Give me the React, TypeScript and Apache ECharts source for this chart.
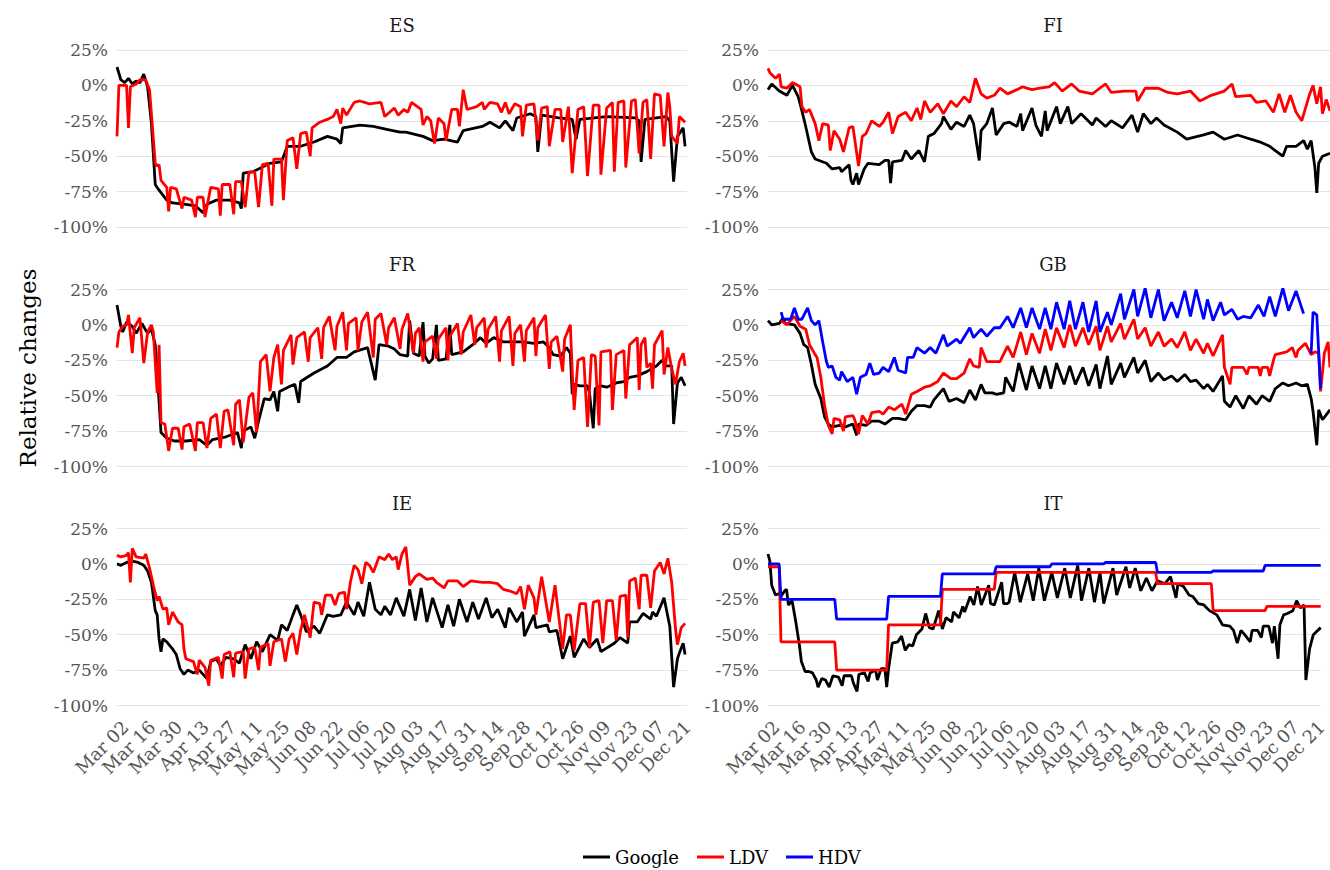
import React, { useEffect, useRef } from "react";
import * as echarts from "echarts";

// Day index: 0 = Mon 2 Mar 2020
const panelNames = ["ES", "FI", "FR", "GB", "IE", "IT"];
const tickDays = [0, 14, 28, 42, 56, 70, 84, 98, 112, 126, 140, 154, 168, 182, 196, 210, 224, 238, 252, 266, 280, 294];
const dayMin = -1;
const dayMax = 297;
const yMin = -100;
const yMax = 25;

const esGoogle = [[-1,13],[1,4],[3,2],[5,5],[7,1],[9,3],[11,2],[13,8],[15,-1],[17,-27],[19,-70],[21,-74],[25,-81],[28,-83],[35,-84],[40,-85],[44,-90],[46,-84],[51,-81],[58,-81],[63,-83],[64,-87],[65,-62],[70,-61],[79,-55],[85,-54],[88,-43],[95,-43],[102,-40],[109,-36],[114,-38],[116,-41],[117,-30],[126,-28],[133,-29],[140,-31],[147,-33],[150,-33],[159,-36],[164,-39],[170,-38],[177,-40],[180,-32],[190,-29],[194,-26],[199,-30],[202,-25],[206,-32],[208,-23],[215,-20],[218,-22],[219,-47],[221,-21],[230,-23],[237,-24],[239,-38],[241,-24],[255,-22],[270,-23],[272,-25],[273,-54],[275,-24],[286,-22],[288,-25],[290,-68],[292,-36],[295,-30],[296,-43]];
const esLdv = [[-1,-36],[0,0],[4,0],[5,-30],[6,-1],[9,1],[11,4],[14,4],[16,-3],[19,-55],[20,-57],[21,-56],[22,-67],[25,-72],[26,-89],[27,-72],[30,-73],[33,-87],[34,-79],[38,-81],[40,-93],[41,-79],[44,-79],[45,-93],[48,-72],[52,-73],[53,-92],[54,-70],[58,-70],[60,-91],[61,-68],[64,-68],[66,-86],[68,-61],[71,-61],[73,-86],[75,-56],[78,-55],[80,-85],[81,-52],[85,-52],[86,-81],[88,-39],[91,-37],[93,-59],[95,-34],[98,-33],[100,-50],[101,-30],[105,-26],[109,-24],[112,-22],[114,-17],[116,-27],[117,-16],[119,-21],[123,-12],[126,-11],[131,-13],[137,-12],[139,-22],[144,-16],[146,-21],[149,-17],[151,-19],[153,-12],[156,-15],[158,-17],[159,-28],[161,-22],[163,-25],[165,-41],[167,-23],[170,-27],[171,-39],[174,-17],[177,-17],[178,-29],[180,-3],[182,-17],[187,-15],[190,-12],[191,-17],[194,-12],[198,-13],[200,-19],[202,-12],[204,-20],[207,-13],[210,-15],[211,-36],[213,-14],[217,-13],[219,-39],[221,-16],[224,-15],[225,-43],[228,-17],[231,-17],[232,-40],[235,-15],[237,-62],[240,-17],[243,-15],[245,-64],[248,-14],[251,-14],[252,-63],[255,-16],[258,-12],[259,-61],[261,-12],[264,-11],[265,-58],[268,-11],[270,-10],[272,-48],[274,-12],[276,-10],[278,-52],[280,-6],[283,-7],[285,-43],[287,-5],[288,-15],[289,-36],[292,-41],[293,-22],[296,-26]];

const fiGoogle = [[-1,-3],[1,1],[5,-4],[9,-7],[12,0],[15,-8],[17,-18],[19,-29],[22,-47],[24,-52],[30,-55],[33,-59],[37,-58],[38,-61],[42,-56],[43,-67],[44,-70],[46,-62],[47,-70],[50,-59],[52,-55],[58,-56],[61,-53],[63,-53],[64,-69],[65,-54],[70,-53],[72,-46],[75,-52],[79,-46],[82,-54],[84,-36],[87,-34],[91,-27],[92,-22],[96,-31],[99,-26],[103,-29],[106,-21],[108,-27],[111,-53],[112,-32],[115,-27],[118,-16],[120,-35],[124,-27],[127,-26],[131,-29],[133,-20],[134,-32],[139,-16],[141,-28],[144,-36],[146,-18],[147,-32],[152,-15],[154,-27],[158,-15],[160,-27],[165,-20],[171,-28],[173,-23],[178,-29],[181,-25],[187,-30],[192,-21],[195,-33],[198,-20],[202,-27],[205,-23],[209,-28],[216,-33],[221,-38],[230,-35],[235,-33],[241,-38],[248,-35],[255,-38],[260,-40],[265,-43],[268,-46],[272,-50],[274,-43],[279,-43],[283,-39],[285,-45],[287,-39],[289,-58],[290,-76],[291,-55],[293,-50],[297,-48]];
const fiLdv = [[-1,12],[0,9],[3,5],[5,8],[6,-1],[9,-2],[12,2],[16,-1],[17,-15],[19,-19],[21,-17],[24,-27],[26,-39],[28,-27],[31,-28],[32,-46],[34,-32],[37,-38],[39,-47],[42,-30],[44,-29],[45,-38],[47,-57],[49,-36],[51,-34],[54,-25],[58,-29],[60,-26],[63,-19],[65,-34],[68,-22],[72,-19],[75,-25],[78,-16],[80,-24],[82,-11],[85,-19],[89,-13],[92,-20],[96,-11],[99,-15],[103,-8],[106,-12],[109,5],[112,-6],[115,-9],[119,-7],[122,-2],[126,-6],[131,-3],[134,-1],[139,-3],[143,-2],[148,-1],[151,2],[155,-4],[160,1],[164,-4],[171,-6],[178,1],[181,-5],[188,-4],[194,-4],[195,-11],[199,-2],[206,-2],[211,-5],[216,-6],[223,-4],[228,-11],[234,-7],[241,-4],[245,1],[247,-8],[255,-7],[258,-12],[263,-11],[267,-19],[270,-6],[273,-19],[276,-7],[279,-19],[282,-25],[286,-7],[288,0],[290,-13],[292,-1],[293,-20],[295,-10],[297,-18]];

const frGoogle = [[-1,14],[1,-1],[2,-5],[4,2],[7,-1],[9,-6],[12,1],[15,-6],[17,-3],[19,-14],[21,-54],[22,-76],[25,-80],[29,-82],[35,-82],[42,-81],[46,-85],[49,-81],[56,-79],[62,-76],[64,-87],[65,-75],[69,-72],[71,-80],[73,-68],[76,-52],[79,-53],[81,-47],[83,-61],[84,-47],[90,-43],[92,-42],[94,-55],[95,-40],[102,-34],[109,-29],[114,-23],[119,-23],[123,-19],[130,-16],[134,-39],[136,-14],[141,-15],[144,-17],[147,-21],[151,-22],[152,3],[154,-20],[157,-22],[159,2],[160,-22],[162,-27],[164,-24],[166,0],[167,-25],[171,-24],[173,0],[174,-21],[180,-19],[185,-14],[189,-9],[192,-13],[196,-9],[201,-12],[206,-12],[211,-12],[217,-13],[222,-12],[225,-16],[227,-21],[231,-22],[234,-16],[236,-20],[237,-49],[238,-42],[241,-43],[245,-43],[246,-48],[248,-73],[249,-45],[252,-43],[255,-44],[260,-41],[264,-40],[267,-37],[271,-36],[276,-33],[281,-29],[284,-25],[286,-29],[289,-29],[290,-70],[292,-41],[294,-37],[296,-43]];
const frLdv = [[-1,-16],[0,-5],[2,-1],[4,0],[5,7],[7,-20],[8,-2],[11,5],[13,-27],[15,-5],[17,0],[18,-5],[20,-48],[21,-14],[22,-69],[24,-70],[26,-89],[28,-73],[31,-73],[33,-88],[34,-72],[37,-70],[40,-89],[41,-69],[44,-69],[46,-87],[48,-66],[51,-63],[53,-87],[55,-61],[57,-60],[60,-85],[61,-56],[63,-53],[65,-83],[68,-51],[70,-48],[72,-76],[74,-26],[77,-21],[79,-47],[81,-23],[83,-14],[85,-42],[86,-18],[90,-7],[91,-28],[93,-9],[97,-5],[99,-26],[100,-9],[104,-2],[106,-24],[107,-2],[110,6],[113,-18],[114,-1],[117,9],[119,-18],[120,1],[124,5],[125,-18],[127,2],[130,9],[133,-23],[134,4],[137,8],[140,-14],[141,-2],[144,5],[147,-17],[148,-3],[151,8],[154,-20],[155,-6],[157,-2],[159,-26],[160,-12],[164,-8],[166,-24],[167,-10],[171,-2],[172,-25],[173,-8],[177,1],[179,-21],[180,-5],[184,7],[186,-14],[187,-2],[191,5],[192,-16],[193,-3],[197,6],[199,-26],[200,-4],[204,6],[206,-29],[207,-6],[210,0],[212,-26],[213,-4],[217,5],[218,-22],[219,-2],[223,7],[225,-31],[226,-12],[229,-8],[232,-33],[233,-10],[236,0],[237,-33],[238,-60],[240,-25],[243,-23],[245,-72],[247,-21],[249,-22],[251,-71],[252,-19],[257,-18],[258,-60],[260,-21],[264,-18],[265,-52],[267,-14],[271,-9],[272,-46],[273,-14],[275,-9],[276,-30],[278,-27],[279,-45],[280,-14],[284,-4],[285,-35],[287,-16],[289,-31],[291,-42],[293,-26],[295,-20],[296,-29]];

const gbGoogle = [[-1,3],[1,0],[5,1],[7,5],[8,1],[13,0],[16,-6],[18,-14],[20,-16],[22,-28],[24,-42],[27,-52],[29,-65],[31,-70],[33,-72],[37,-71],[40,-72],[44,-70],[46,-78],[47,-70],[51,-71],[54,-68],[58,-68],[61,-70],[65,-66],[68,-66],[72,-67],[75,-61],[78,-57],[82,-57],[85,-58],[87,-53],[92,-45],[95,-54],[99,-52],[103,-55],[106,-46],[109,-53],[112,-42],[114,-48],[118,-48],[120,-49],[124,-48],[125,-37],[129,-47],[132,-27],[136,-46],[139,-29],[143,-45],[146,-29],[149,-45],[152,-27],[156,-42],[159,-29],[162,-42],[166,-30],[169,-43],[173,-28],[175,-45],[179,-22],[181,-42],[186,-27],[188,-37],[193,-23],[195,-34],[199,-25],[202,-40],[206,-34],[209,-39],[213,-36],[216,-40],[220,-35],[223,-40],[226,-39],[230,-45],[232,-42],[235,-47],[240,-36],[241,-54],[244,-58],[247,-50],[251,-59],[254,-50],[258,-56],[261,-50],[265,-54],[268,-45],[272,-41],[275,-43],[279,-41],[282,-43],[285,-42],[287,-52],[288,-61],[290,-85],[291,-60],[293,-67],[297,-60]];
const gbLdv = [[6,3],[9,0],[13,6],[16,-1],[19,-3],[21,-14],[24,-21],[25,-23],[27,-37],[29,-57],[31,-71],[33,-77],[34,-66],[37,-67],[39,-75],[40,-65],[44,-64],[45,-67],[47,-77],[49,-64],[52,-70],[54,-62],[58,-61],[60,-63],[63,-58],[66,-60],[70,-56],[72,-63],[75,-49],[78,-47],[82,-44],[85,-43],[89,-40],[92,-34],[96,-38],[99,-38],[103,-34],[106,-24],[108,-29],[111,-30],[112,-16],[115,-26],[119,-26],[122,-26],[126,-15],[129,-23],[133,-5],[136,-21],[139,-6],[143,-20],[146,-3],[149,-18],[152,-2],[156,-16],[159,0],[162,-15],[166,-2],[169,-14],[173,-1],[175,-18],[179,-1],[181,-12],[186,1],[188,-10],[193,4],[195,-10],[199,-2],[202,-15],[206,-5],[209,-15],[213,-10],[216,-16],[220,-5],[223,-18],[226,-10],[230,-20],[232,-13],[235,-22],[240,-7],[241,-30],[244,-42],[245,-30],[251,-30],[253,-35],[254,-30],[259,-30],[260,-36],[261,-30],[264,-30],[265,-36],[267,-25],[268,-21],[274,-19],[277,-16],[279,-23],[280,-18],[284,-13],[287,-21],[289,-19],[291,-20],[292,-47],[294,-20],[296,-12],[297,-30]];
const gbHdv = [[6,9],[7,4],[11,4],[13,12],[15,4],[17,4],[20,12],[22,3],[24,0],[26,3],[28,-12],[30,-26],[31,-30],[33,-29],[35,-37],[37,-39],[38,-33],[41,-40],[44,-37],[46,-49],[48,-37],[51,-35],[53,-27],[55,-35],[58,-34],[60,-30],[63,-33],[66,-23],[68,-32],[72,-34],[73,-23],[76,-23],[78,-16],[82,-20],[85,-16],[88,-20],[92,-7],[94,-15],[99,-10],[101,-13],[106,-2],[108,-9],[112,-3],[115,-8],[119,-2],[122,-2],[126,6],[129,-2],[133,12],[136,-2],[139,12],[143,-3],[146,12],[149,-3],[152,16],[156,-3],[159,17],[162,-3],[166,16],[169,-5],[173,17],[175,-5],[179,9],[181,0],[186,22],[188,4],[193,25],[195,6],[199,26],[202,5],[206,25],[209,3],[213,16],[216,5],[220,24],[223,6],[226,25],[230,4],[232,18],[235,3],[239,16],[241,7],[245,11],[248,4],[251,6],[255,5],[259,14],[262,6],[265,20],[268,6],[272,26],[275,10],[279,24],[283,8]];
const gbHdvLate = [[287,-20],[288,9],[290,7],[292,-45]];

const ieGoogle = [[-1,0],[1,-1],[4,1],[7,2],[10,1],[13,-1],[15,-5],[17,-13],[19,-33],[20,-36],[21,-53],[22,-62],[23,-53],[25,-55],[28,-60],[30,-64],[32,-74],[34,-78],[36,-75],[39,-77],[42,-75],[46,-81],[48,-69],[51,-67],[53,-72],[56,-66],[60,-67],[63,-70],[66,-57],[69,-67],[72,-55],[75,-62],[79,-50],[83,-54],[85,-43],[88,-47],[91,-36],[93,-29],[95,-36],[98,-48],[102,-44],[105,-49],[109,-36],[112,-37],[116,-36],[119,-27],[123,-36],[125,-27],[128,-37],[131,-13],[134,-32],[137,-36],[139,-30],[142,-36],[145,-24],[149,-37],[152,-18],[155,-40],[158,-17],[161,-41],[164,-24],[169,-45],[172,-29],[175,-44],[178,-25],[182,-41],[185,-27],[188,-39],[192,-24],[195,-38],[198,-32],[202,-45],[204,-31],[208,-41],[211,-34],[212,-51],[217,-36],[218,-45],[224,-43],[225,-48],[229,-47],[232,-67],[236,-51],[238,-66],[243,-53],[246,-59],[250,-53],[252,-62],[259,-56],[262,-52],[266,-56],[267,-41],[271,-41],[274,-35],[278,-39],[279,-34],[281,-37],[285,-24],[288,-44],[290,-87],[292,-67],[293,-63],[295,-56],[296,-64]];
const ieLdv = [[-1,6],[1,5],[4,6],[5,8],[6,-13],[7,11],[9,5],[13,4],[14,7],[16,-3],[18,-15],[20,-26],[21,-23],[23,-32],[25,-31],[26,-43],[28,-34],[31,-41],[33,-43],[34,-60],[35,-67],[39,-69],[41,-78],[42,-68],[45,-73],[47,-86],[48,-68],[52,-66],[54,-81],[55,-64],[58,-62],[60,-80],[61,-63],[65,-62],[66,-81],[68,-60],[71,-59],[73,-75],[74,-59],[78,-56],[79,-72],[81,-55],[85,-53],[87,-69],[89,-53],[91,-49],[93,-64],[95,-47],[97,-36],[100,-52],[102,-27],[105,-28],[106,-36],[108,-22],[111,-22],[113,-29],[115,-21],[118,-20],[119,-32],[121,-13],[123,-1],[125,-4],[127,-14],[129,1],[131,-1],[133,-6],[136,5],[139,3],[141,7],[143,3],[145,5],[146,-4],[148,7],[150,12],[152,-15],[155,-9],[157,-7],[161,-11],[164,-10],[166,-13],[170,-17],[172,-12],[177,-12],[180,-16],[184,-12],[190,-13],[194,-13],[198,-14],[201,-18],[204,-19],[208,-21],[210,-16],[212,-32],[214,-15],[217,-24],[218,-36],[221,-9],[225,-41],[228,-15],[232,-60],[234,-36],[236,-36],[238,-61],[241,-28],[244,-28],[246,-59],[248,-27],[251,-26],[253,-56],[255,-26],[258,-26],[260,-54],[262,-23],[265,-22],[266,-52],[267,-12],[270,-10],[272,-32],[273,-8],[276,-8],[278,-31],[280,-5],[283,1],[285,-7],[287,4],[289,-13],[291,-46],[292,-57],[294,-45],[296,-42]];

const itGoogle = [[-1,7],[0,2],[1,-15],[3,-22],[5,-21],[6,-23],[8,-19],[9,-18],[10,-29],[12,-26],[14,-41],[16,-58],[17,-69],[19,-76],[21,-76],[23,-77],[25,-82],[26,-87],[28,-81],[30,-82],[32,-87],[34,-79],[37,-80],[39,-86],[40,-79],[44,-79],[45,-84],[47,-90],[48,-78],[51,-77],[53,-83],[54,-77],[57,-75],[58,-82],[60,-74],[62,-74],[63,-87],[64,-74],[66,-56],[69,-55],[71,-51],[73,-61],[75,-57],[77,-58],[79,-50],[82,-46],[84,-35],[86,-45],[88,-46],[91,-33],[93,-46],[95,-38],[98,-41],[99,-34],[102,-38],[104,-30],[105,-34],[108,-23],[110,-29],[112,-16],[114,-29],[118,-15],[119,-28],[121,-29],[125,-13],[126,-28],[128,-28],[129,-27],[132,-6],[135,-27],[139,-7],[142,-26],[145,-3],[148,-26],[152,-6],[155,-24],[159,-3],[162,-24],[166,-1],[168,-26],[172,-3],[175,-27],[178,-6],[180,-28],[185,-3],[187,-22],[192,-2],[194,-17],[197,-3],[200,-19],[203,-10],[206,-19],[209,-12],[213,-14],[216,-9],[219,-24],[220,-14],[223,-16],[226,-22],[228,-23],[231,-28],[234,-29],[237,-33],[241,-36],[244,-43],[248,-44],[250,-47],[252,-56],[254,-47],[256,-50],[259,-55],[260,-47],[263,-47],[265,-52],[266,-44],[269,-44],[271,-56],[272,-44],[274,-67],[275,-43],[277,-36],[279,-35],[282,-33],[284,-26],[286,-31],[288,-29],[289,-82],[291,-60],[293,-50],[297,-45]];
const itLdv = [[-1,-2],[5,-2],[6,-55],[35,-55],[36,-75],[63,-75],[64,-43],[92,-43],[93,-18],[121,-18],[122,-6],[208,-6],[209,-14],[238,-14],[239,-33],[267,-33],[268,-30],[297,-30]];
const itHdv = [[-1,0],[5,0],[6,-25],[35,-25],[36,-39],[63,-39],[64,-23],[92,-23],[93,-7],[121,-7],[122,-2],[151,-2],[152,0],[180,0],[181,1],[208,1],[209,-6],[238,-6],[239,-5],[266,-5],[267,-1],[297,-1]];

const panelSeries: Record<string, { name: string; data: number[][] }[]> = {
  ES: [{ name: "Google", data: esGoogle }, { name: "LDV", data: esLdv }],
  FI: [{ name: "Google", data: fiGoogle }, { name: "LDV", data: fiLdv }],
  FR: [{ name: "Google", data: frGoogle }, { name: "LDV", data: frLdv }],
  GB: [{ name: "Google", data: gbGoogle }, { name: "LDV", data: gbLdv }, { name: "HDV", data: gbHdv }, { name: "HDV", data: gbHdvLate }],
  IE: [{ name: "Google", data: ieGoogle }, { name: "LDV", data: ieLdv }],
  IT: [{ name: "Google", data: itGoogle }, { name: "LDV", data: itLdv }, { name: "HDV", data: itHdv }],
};

const colors: Record<string, string> = { Google: "#000000", LDV: "#ff0000", HDV: "#0000ff" };
const months = ["Jan", "Feb", "Mar", "Apr", "May", "Jun", "Jul", "Aug", "Sep", "Oct", "Nov", "Dec"];
const FONT = "DejaVu Serif";

function dayLabel(d: number): string {
  const dt = new Date(Date.UTC(2020, 2, 2) + Math.round(d) * 86400000);
  return months[dt.getUTCMonth()] + " " + String(dt.getUTCDate()).padStart(2, "0");
}

export default function App() {
  const ref = useRef<HTMLDivElement>(null);
  useEffect(() => {
    document.body.style.margin = "0";
    const chart = echarts.init(ref.current as HTMLDivElement, undefined, { renderer: "svg" });
    const colLeft = [117, 768];
    const rowTop = [50, 289.5, 528.5];
    const W = 570;
    const H = 177;
    const grids: any[] = [];
    const xAxes: any[] = [];
    const yAxes: any[] = [];
    const series: any[] = [];
    const graphics: any[] = [];
    panelNames.forEach((p, i) => {
      const r = Math.floor(i / 2);
      const c = i % 2;
      grids.push({ left: colLeft[c], top: rowTop[r], width: W, height: H });
      const bottomRow = r === 2;
      xAxes.push({
        type: "value", gridIndex: i, min: dayMin, max: dayMax,
        axisLine: { show: false }, axisTick: { show: false }, splitLine: { show: false },
        axisLabel: {
          show: bottomRow, customValues: tickDays, rotate: 45, margin: 12,
          verticalAlign: "top",
          color: "#555", fontSize: 18, fontFamily: FONT,
          formatter: (v: number) => dayLabel(v),
        },
      });
      yAxes.push({
        type: "value", gridIndex: i, min: yMin, max: yMax, interval: 25,
        axisLine: { show: false }, axisTick: { show: false },
        splitLine: { show: true, lineStyle: { color: "#e3e3e3", width: 1.2 } },
        axisLabel: { color: "#555", fontSize: 17, fontFamily: FONT, margin: 9, formatter: (v: number) => v + "%" },
      });
      panelSeries[p].forEach((s) => {
        series.push({
          type: "line", name: s.name, xAxisIndex: i, yAxisIndex: i, data: s.data,
          symbol: "none", showSymbol: false,
          lineStyle: { color: colors[s.name], width: 2.8 },
          itemStyle: { color: colors[s.name] },
          z: s.name === "Google" ? 2 : 3,
        });
      });
      graphics.push({
        type: "text", x: colLeft[c] + W / 2, y: rowTop[r] - 25,
        style: { text: p, fontSize: 18, fontFamily: FONT, fill: "#1a1a1a", textAlign: "center", textVerticalAlign: "middle" },
      });
    });
    graphics.push({
      type: "text", x: 28, y: 368, rotation: Math.PI / 2,
      style: { text: "Relative changes", fontSize: 23, fontFamily: FONT, fill: "#000", textAlign: "center", textVerticalAlign: "middle" },
    });
    chart.setOption({
      animation: false,
      backgroundColor: "#ffffff",
      grid: grids,
      xAxis: xAxes,
      yAxis: yAxes,
      series,
      graphic: graphics,
      legend: {
        data: ["Google", "LDV", "HDV"], left: 578, top: 843, icon: "rect",
        itemWidth: 27, itemHeight: 3, itemGap: 18,
        textStyle: { fontSize: 18, fontFamily: FONT, color: "#000" },
      },
    });
    return () => chart.dispose();
  }, []);
  return <div ref={ref} style={{ width: 1330, height: 870 }} />;
}
